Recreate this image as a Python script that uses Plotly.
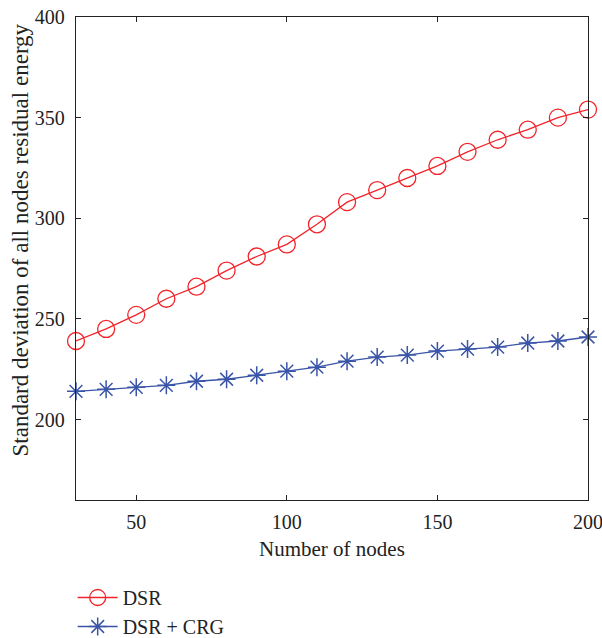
import plotly.graph_objects as go

nodes = [30, 40, 50, 60, 70, 80, 90, 100, 110, 120, 130, 140, 150, 160, 170, 180, 190, 200]
dsr = [239, 245, 252, 260, 266, 274, 281, 287, 297, 308, 314, 320, 326, 333, 339, 344, 350, 354]
dsr_crg = [214, 215, 216, 217, 219, 220, 222, 224, 226, 229, 231, 232, 234, 235, 236, 238, 239, 241]

FONT = "Liberation Serif"

fig = go.Figure()
fig.add_trace(go.Scatter(
    x=nodes, y=dsr, name="DSR", mode="lines+markers",
    line=dict(color="#f2242a", width=1.3),
    marker=dict(symbol="circle-open", size=17, color="#f2242a", line=dict(width=1.3)),
    cliponaxis=False,
))
fig.add_trace(go.Scatter(
    x=nodes, y=dsr_crg, name="DSR + CRG", mode="lines+markers",
    line=dict(color="#3a55a8", width=1.3),
    marker=dict(symbol="asterisk-open", size=15, color="#3a55a8", line=dict(width=1.5, color="#3a55a8")),
    cliponaxis=False,
))

axis_common = dict(
    showline=True, linecolor="#222", linewidth=1.3, mirror="ticks",
    ticks="inside", ticklen=5, tickcolor="#222", showgrid=False, zeroline=False,
    tickfont=dict(family=FONT, size=20, color="#222"), automargin=False,
    ticklabeloverflow="allow",
)

fig.update_layout(
    width=602, height=638,
    paper_bgcolor="white", plot_bgcolor="white",
    margin=dict(l=76, r=14, t=17, b=138),
    font=dict(family=FONT, size=20, color="#222"),
    xaxis=dict(range=[30, 200], tickvals=[50, 100, 150, 200], ticklabelstandoff=4, **axis_common),
    yaxis=dict(range=[160, 400], tickvals=[200, 250, 300, 350, 400], ticklabelstandoff=6, **axis_common),
    legend=dict(x=-0.0065, y=(638 - 578) / 638, xanchor="left", yanchor="top",
                xref="paper", yref="container",
                bgcolor="rgba(0,0,0,0)", font=dict(family=FONT, size=20),
                itemwidth=40, tracegroupgap=0),
    showlegend=True,
    annotations=[
        dict(text="Number of nodes", x=0.5, y=0, xref="paper", yref="paper",
             xanchor="center", yanchor="middle", yshift=-49, showarrow=False,
             font=dict(family=FONT, size=21, color="#222")),
        dict(text="Standard deviation of all nodes residual energy", x=0, y=0.5,
             xref="paper", yref="paper", xanchor="center", yanchor="middle",
             xshift=-56, yshift=18, textangle=-90, showarrow=False,
             font=dict(family=FONT, size=23, color="#222")),
    ],
)

fig.write_html("out.html", config={"displayModeBar": False},
               post_script="document.body.style.margin='0';document.body.style.overflow='hidden';")
